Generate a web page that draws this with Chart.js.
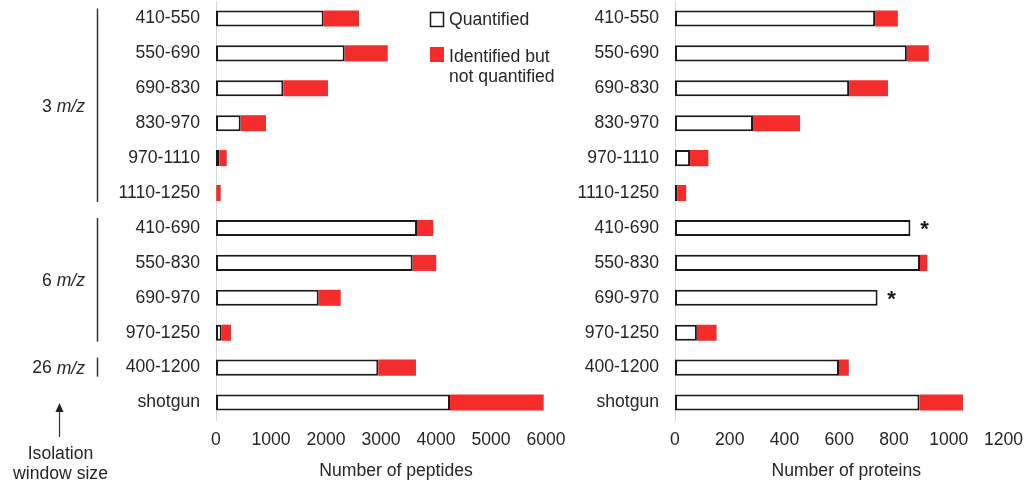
<!DOCTYPE html>
<html>
<head>
<meta charset="utf-8">
<script src="https://cdn.jsdelivr.net/npm/chart.js@4/dist/chart.umd.min.js"></script>
<style>
  html, body { margin: 0; padding: 0; background: #fff; }
  #wrap { position: relative; width: 1034px; height: 487px; overflow: hidden; }
  canvas { position: absolute; top: 0; }
  #peptides { left: 0; }
  #proteins { left: 560px; }
</style>
</head>
<body>
<div id="wrap">
  <canvas id="peptides" width="580" height="487"></canvas>
  <canvas id="proteins" width="474" height="487"></canvas>
</div>
<script>
// Isolation windows (m/z ranges) and the shotgun reference run
const categories = ['410-550', '550-690', '690-830', '830-970', '970-1110', '1110-1250',
                    '410-690', '550-830', '690-970', '970-1250', '400-1200', 'shotgun'];

// Peptides: quantified, and identified but not quantified
const peptidesQuantified    = [1958, 2340, 1224, 449, 60, 5, 3655, 3576, 1867, 104, 2951, 4255];
const peptidesNotQuantified = [642, 782, 812, 460, 135, 80, 296, 429, 400, 169, 685, 1703];

// Proteins: quantified, and identified but not quantified
const proteinsQuantified    = [731, 847, 636, 285, 55, 8, 860, 895, 740, 80, 599, 893];
const proteinsNotQuantified = [83, 80, 142, 172, 67, 33, 0, 27, 0, 72, 36, 159];

// Protein rows flagged with an asterisk
const proteinStarred = ['410-690', '690-970'];

// Isolation window size groups (first and last row of each)
const groupWidths = ['3', '6', '26'];
const groupFirst  = [0, 6, 10];
const groupLast   = [5, 9, 10];

const seriesNames = ['Quantified', 'Identified but not quantified'];

const FONT = "'Liberation Sans', Arial, Helvetica, sans-serif";
const FS = 17.6;
const TEXT = '#262626';
const RED = '#f42c2c';

function datasets(q, nq) {
  return [
    { label: seriesNames[0], data: q, backgroundColor: '#ffffff', borderColor: '#1a1a1a',
      borderWidth: 2, borderSkipped: false },
    { label: seriesNames[1], data: nq, backgroundColor: RED, borderWidth: 0 }
  ];
}

// Axis title drawn centred under the plot, nudged right
function axisTitle(text, dx) {
  return {
    id: 'axisTitle',
    afterDraw(chart) {
      const { ctx, chartArea } = chart;
      ctx.save();
      ctx.font = FS + 'px ' + FONT;
      ctx.fillStyle = TEXT;
      ctx.textAlign = 'center';
      ctx.textBaseline = 'middle';
      ctx.fillText(text, (chartArea.left + chartArea.right) / 2 + dx, 471);
      ctx.restore();
    }
  };
}

function options(max, step, yWidth, padRight) {
  return {
    responsive: false,
    animation: false,
    indexAxis: 'y',
    layout: { padding: { top: 1, right: padRight, bottom: 0, left: 0 } },
    plugins: { legend: { display: false }, tooltip: { enabled: false } },
    datasets: { bar: { categoryPercentage: 1, barPercentage: 0.46 } },
    scales: {
      x: {
        stacked: true, min: 0, max: max,
        ticks: { stepSize: step, color: TEXT, font: { family: FONT, size: FS }, padding: 10,
                 maxRotation: 0, callback: v => String(v) },
        grid: { display: false, drawTicks: false },
        border: { display: false },
        afterFit: s => { s.height = 67; s.paddingLeft = 0; s.paddingRight = 0; }
      },
      y: {
        stacked: true,
        ticks: { color: TEXT, font: { family: FONT, size: FS }, padding: 16 },
        grid: { display: false, drawTicks: false },
        border: { display: true, color: '#d9d9d9', width: 1 },
        afterFit: s => { s.width = yWidth; s.paddingTop = 0; s.paddingBottom = 0; }
      }
    }
  };
}

// Group brackets, legend and the isolation window caption
const leftDecor = {
  id: 'leftDecor',
  afterDraw(chart) {
    const { ctx } = chart;
    const y = chart.scales.y;
    ctx.save();
    ctx.fillStyle = TEXT;
    ctx.strokeStyle = '#333';
    ctx.textBaseline = 'middle';
    groupWidths.forEach((w, i) => {
      const top = y.getPixelForValue(groupFirst[i]) - 10;
      const bot = y.getPixelForValue(groupLast[i]) + 9;
      ctx.lineWidth = 1.5;
      ctx.beginPath();
      ctx.moveTo(97.5, top);
      ctx.lineTo(97.5, bot);
      ctx.stroke();
      const mid = (y.getPixelForValue(groupFirst[i]) + y.getPixelForValue(groupLast[i])) / 2 + 1;
      ctx.font = FS + 'px ' + FONT;
      const a = w + ' ';
      const wa = ctx.measureText(a).width;
      ctx.font = 'italic ' + FS + 'px ' + FONT;
      const wb = ctx.measureText('m/z').width;
      const x0 = 85 - wa - wb;
      ctx.textAlign = 'left';
      ctx.font = FS + 'px ' + FONT;
      ctx.fillText(a, x0, mid);
      ctx.font = 'italic ' + FS + 'px ' + FONT;
      ctx.fillText('m/z', x0 + wa, mid);
    });
    // arrow
    ctx.lineWidth = 1.2;
    ctx.beginPath();
    ctx.moveTo(59.5, 437);
    ctx.lineTo(59.5, 410);
    ctx.stroke();
    ctx.fillStyle = '#222';
    ctx.beginPath();
    ctx.moveTo(59.5, 403);
    ctx.lineTo(55.5, 412);
    ctx.lineTo(63.5, 412);
    ctx.closePath();
    ctx.fill();
    ctx.fillStyle = TEXT;
    ctx.font = FS + 'px ' + FONT;
    ctx.textAlign = 'center';
    ctx.fillText('Isolation', 60.5, 454);
    ctx.fillText('window size', 60.5, 474);

    // legend
    ctx.lineWidth = 1.5;
    ctx.strokeStyle = '#1a1a1a';
    ctx.fillStyle = '#fff';
    ctx.fillRect(430.5, 12.5, 13, 14);
    ctx.strokeRect(430.5, 12.5, 13, 14);
    ctx.fillStyle = RED;
    ctx.fillRect(430, 47, 14, 15);
    ctx.fillStyle = TEXT;
    ctx.textAlign = 'left';
    ctx.fillText(seriesNames[0], 449, 20);
    ctx.fillText('Identified but', 449, 57);
    ctx.fillText('not quantified', 449, 77);
    ctx.restore();
  }
};

// Asterisks after flagged protein bars
const stars = {
  id: 'stars',
  afterDraw(chart) {
    const { ctx } = chart;
    const x = chart.scales.x, y = chart.scales.y;
    ctx.save();
    ctx.fillStyle = '#1a1a1a';
    ctx.font = 'bold 22px ' + FONT;
    ctx.textAlign = 'center';
    ctx.textBaseline = 'middle';
    proteinStarred.forEach(label => {
      const i = categories.indexOf(label);
      const v = proteinsQuantified[i] + proteinsNotQuantified[i];
      ctx.fillText('*', x.getPixelForValue(v) + 14, y.getPixelForValue(i) + 2);
    });
    ctx.restore();
  }
};

new Chart(document.getElementById('peptides'), {
  type: 'bar',
  data: { labels: categories, datasets: datasets(peptidesQuantified, peptidesNotQuantified) },
  options: options(6000, 1000, 216, 34),
  plugins: [leftDecor, axisTitle('Number of peptides', 15)]
});

new Chart(document.getElementById('proteins'), {
  type: 'bar',
  data: { labels: categories, datasets: datasets(proteinsQuantified, proteinsNotQuantified) },
  options: options(1200, 200, 115, 30.5),
  plugins: [stars, axisTitle('Number of proteins', 7)]
});
</script>
</body>
</html>
